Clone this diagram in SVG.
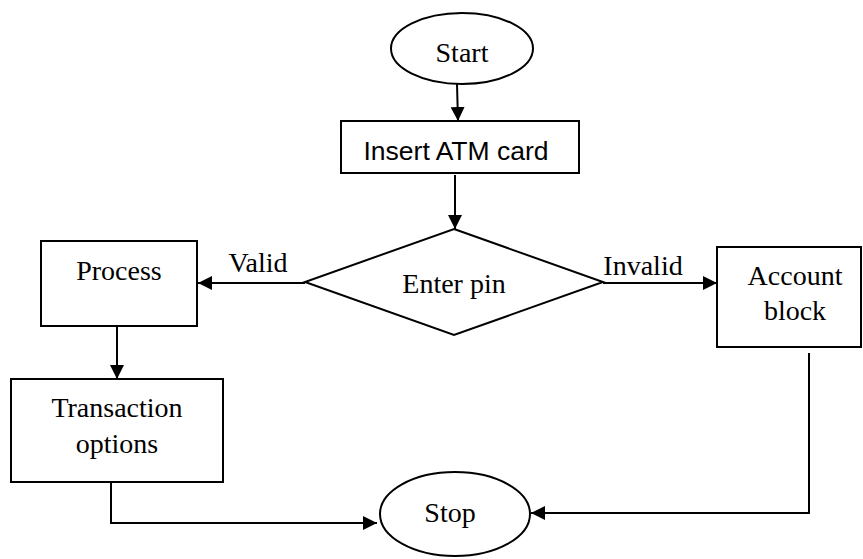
<svg xmlns="http://www.w3.org/2000/svg" width="863" height="559" viewBox="0 0 863 559">
<style>
.shape{fill:#fff;stroke:#000;stroke-width:2}
.t{font-family:"Liberation Serif","Times New Roman",serif;font-size:28px;fill:#000;text-anchor:middle}
.s{font-family:"Liberation Sans",Arial,sans-serif;font-size:26.5px;fill:#000;text-anchor:middle}
.c{fill:none;stroke:#000;stroke-width:2}
</style>
<defs>
<marker id="ah" markerUnits="userSpaceOnUse" markerWidth="14" markerHeight="14" viewBox="0 0 14 14" refX="14" refY="7" orient="auto">
<path d="M0,0 L14,7 L0,14 Z" fill="#000"/>
</marker>
</defs>
<g id="connectors">
<line class="c" x1="457" y1="84" x2="458" y2="121" marker-end="url(#ah)"/>
<line class="c" x1="455" y1="175" x2="455" y2="229" marker-end="url(#ah)"/>
<line class="c" x1="305" y1="283" x2="198" y2="283" marker-end="url(#ah)"/>
<line class="c" x1="603" y1="283" x2="717" y2="283" marker-end="url(#ah)"/>
<line class="c" x1="117" y1="326" x2="117" y2="379" marker-end="url(#ah)"/>
<polyline class="c" points="111,482 111,523 377,523" marker-end="url(#ah)"/>
<polyline class="c" points="809,353 809,513 531,513" marker-end="url(#ah)"/>
<text class="t" x="258" y="272">Valid</text>
<text class="t" x="643" y="275">Invalid</text>
</g>
<g id="start">
<ellipse class="shape" cx="462" cy="48.5" rx="71" ry="35.5"/>
<text class="t" x="462" y="62">Start</text>
</g>
<g id="insert">
<rect class="shape" x="341" y="121" width="238" height="52"/>
<text class="s" x="456" y="160">Insert ATM card</text>
</g>
<g id="enterpin">
<polygon class="shape" points="454,229 603,282 454,335 305,282"/>
<text class="t" x="454" y="293">Enter pin</text>
</g>
<g id="process">
<rect class="shape" x="41" y="241" width="156" height="85"/>
<text class="t" x="119" y="280">Process</text>
</g>
<g id="account">
<rect class="shape" x="717" y="247" width="144" height="100"/>
<text class="t" x="795" y="285">Account</text>
<text class="t" x="795" y="320">block</text>
</g>
<g id="transaction">
<rect class="shape" x="11" y="379" width="212" height="103"/>
<text class="t" x="117" y="417">Transaction</text>
<text class="t" x="117" y="453">options</text>
</g>
<g id="stop">
<ellipse class="shape" cx="455" cy="514" rx="75" ry="42"/>
<text class="t" x="450" y="522">Stop</text>
</g>
</svg>
